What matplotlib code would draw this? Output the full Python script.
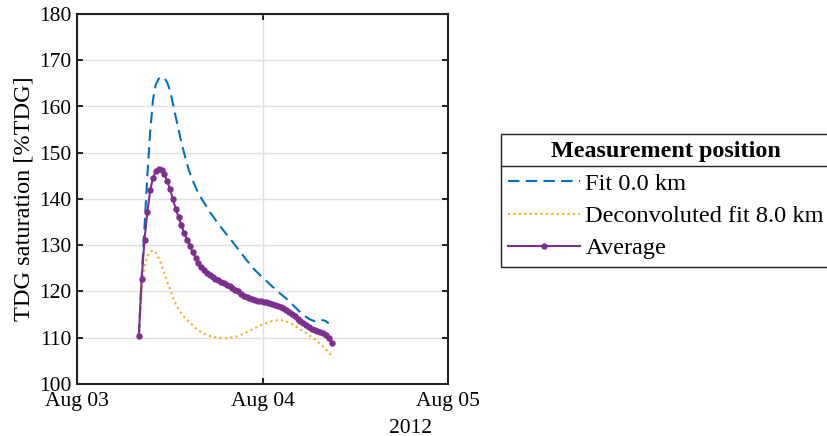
import matplotlib
matplotlib.use('Agg')
import matplotlib.pyplot as plt
import matplotlib.dates as mdates
from matplotlib.lines import Line2D
import pandas as pd

plt.rcParams['font.family'] = 'serif'
plt.rcParams['font.serif'] = ['Liberation Serif', 'DejaVu Serif']

# samples every 22 minutes from 08:00 on Aug 03 2012
times = pd.date_range('2012-08-03 08:00', periods=69, freq='22min')

average = [110.4, 122.7, 131.2, 137.2, 141.9, 144.6, 146.0, 146.5, 146.3, 145.4,
           143.9, 142.1, 140.0, 137.9, 136.1, 134.3, 132.7, 131.2, 129.9, 128.5,
           127.3, 126.2, 125.3, 124.6, 124.0, 123.6, 123.2, 122.8, 122.4, 122.1,
           121.8, 121.4, 121.1, 120.8, 120.4, 120.0, 119.5, 119.1, 118.8, 118.5,
           118.3, 118.1, 118.0, 117.9, 117.8, 117.7, 117.5, 117.3, 117.1, 116.9,
           116.7, 116.4, 115.9, 115.5, 115.1, 114.6, 114.1, 113.6, 113.1, 112.7,
           112.3, 111.9, 111.7, 111.5, 111.3, 111.0, 110.6, 110.0, 108.8]

fit_0km = [110.5, 123.0, 134.0, 145.0, 154.5, 161.5, 164.8, 166.0, 166.4, 166.2,
           165.2, 163.5, 160.7, 157.8, 155.0, 152.3, 149.9, 147.6, 145.6, 144.0,
           142.6, 141.2, 140.2, 139.2, 138.2, 137.2, 136.4, 135.5, 134.7, 133.9,
           133.1, 132.3, 131.6, 130.8, 130.0, 129.2, 128.4, 127.6, 126.8, 126.1,
           125.3, 124.6, 124.0, 123.4, 122.9, 122.3, 121.7, 121.1, 120.6, 120.0,
           119.5, 119.0, 118.5, 117.9, 117.3, 116.7, 116.1, 115.5, 115.0, 114.5,
           114.1, 113.8, 113.6, 113.6, 113.7, 113.8, 113.6, 113.1]

deconv_8km = [110.3, 120.5, 125.4, 127.6, 128.6, 128.9, 128.4, 127.3, 125.8, 124.0,
              122.1, 120.5, 118.7, 117.3, 116.2, 115.3, 114.5, 113.9, 113.3, 112.7,
              112.1, 111.6, 111.2, 110.9, 110.6, 110.4, 110.2, 110.1, 110.0, 109.9,
              109.9, 109.9, 110.0, 110.1, 110.2, 110.4, 110.6, 110.9, 111.2, 111.5,
              111.8, 112.1, 112.4, 112.7, 112.9, 113.2, 113.4, 113.6, 113.7, 113.8,
              113.8, 113.7, 113.5, 113.3, 113.0, 112.6, 112.2, 111.8, 111.4, 111.0,
              110.6, 110.2, 109.7, 109.2, 108.7, 108.1, 107.5, 106.8, 106.2]

W, H = 827, 436
fig = plt.figure(figsize=(W / 100, H / 100), dpi=100)
ax = fig.add_axes([77 / W, 1 - 384 / H, 371 / W, 370 / H])

ax.plot(times[:len(fit_0km)], fit_0km, color='#0072BD', lw=1.5,
        linestyle=(0, (5.5, 3)), label='Fit 0.0 km')
ax.plot(times, deconv_8km, color='#EDB120', lw=1.5,
        linestyle=(0, (1, 1.6)), label='Deconvoluted fit 8.0 km')
ax.plot(times, average, color='#7E2F8E', lw=1.5, marker='o', ms=3.6,
        label='Average')

ax.set_xlim(pd.Timestamp('2012-08-03'), pd.Timestamp('2012-08-05'))
ax.set_ylim(100, 180)
ax.set_yticks(range(100, 181, 10))
ax.xaxis.set_major_locator(mdates.DayLocator())
ax.xaxis.set_major_formatter(mdates.DateFormatter('%b %d'))
ax.grid(True, color='#e0e0e0', lw=1)
ax.set_axisbelow(True)
ax.tick_params(direction='in', top=True, right=True, length=4, width=1.2,
               labelsize=15.5)
ax.tick_params(axis='x', pad=6)
ax.tick_params(axis='y', pad=4)
for s in ax.spines.values():
    s.set_linewidth(1.5)
    s.set_color('#222222')
ax.set_ylabel('TDG saturation [%TDG]', fontsize=17.5, labelpad=3)

fig.text(410 / W, 1 - 428 / H, '2012', ha='center', va='center', fontsize=15.5)

leg = ax.legend(loc='upper left', bbox_to_anchor=(501 / W, 1 - 134 / H),
                bbox_transform=fig.transFigure, borderaxespad=0,
                title='Measurement position', fontsize=17.6,
                title_fontproperties={'weight': 'bold', 'size': 17.4},
                fancybox=False, edgecolor='#222222', framealpha=1,
                handlelength=2.95, handletextpad=0.2, labelspacing=0.42,
                borderpad=0.3)
leg.get_frame().set_linewidth(1.0)
fig.add_artist(Line2D([501 / W, 1.0], [1 - 166 / H] * 2,
                      transform=fig.transFigure, color='#222222', lw=1.0))

fig.savefig('out.png', dpi=100)
